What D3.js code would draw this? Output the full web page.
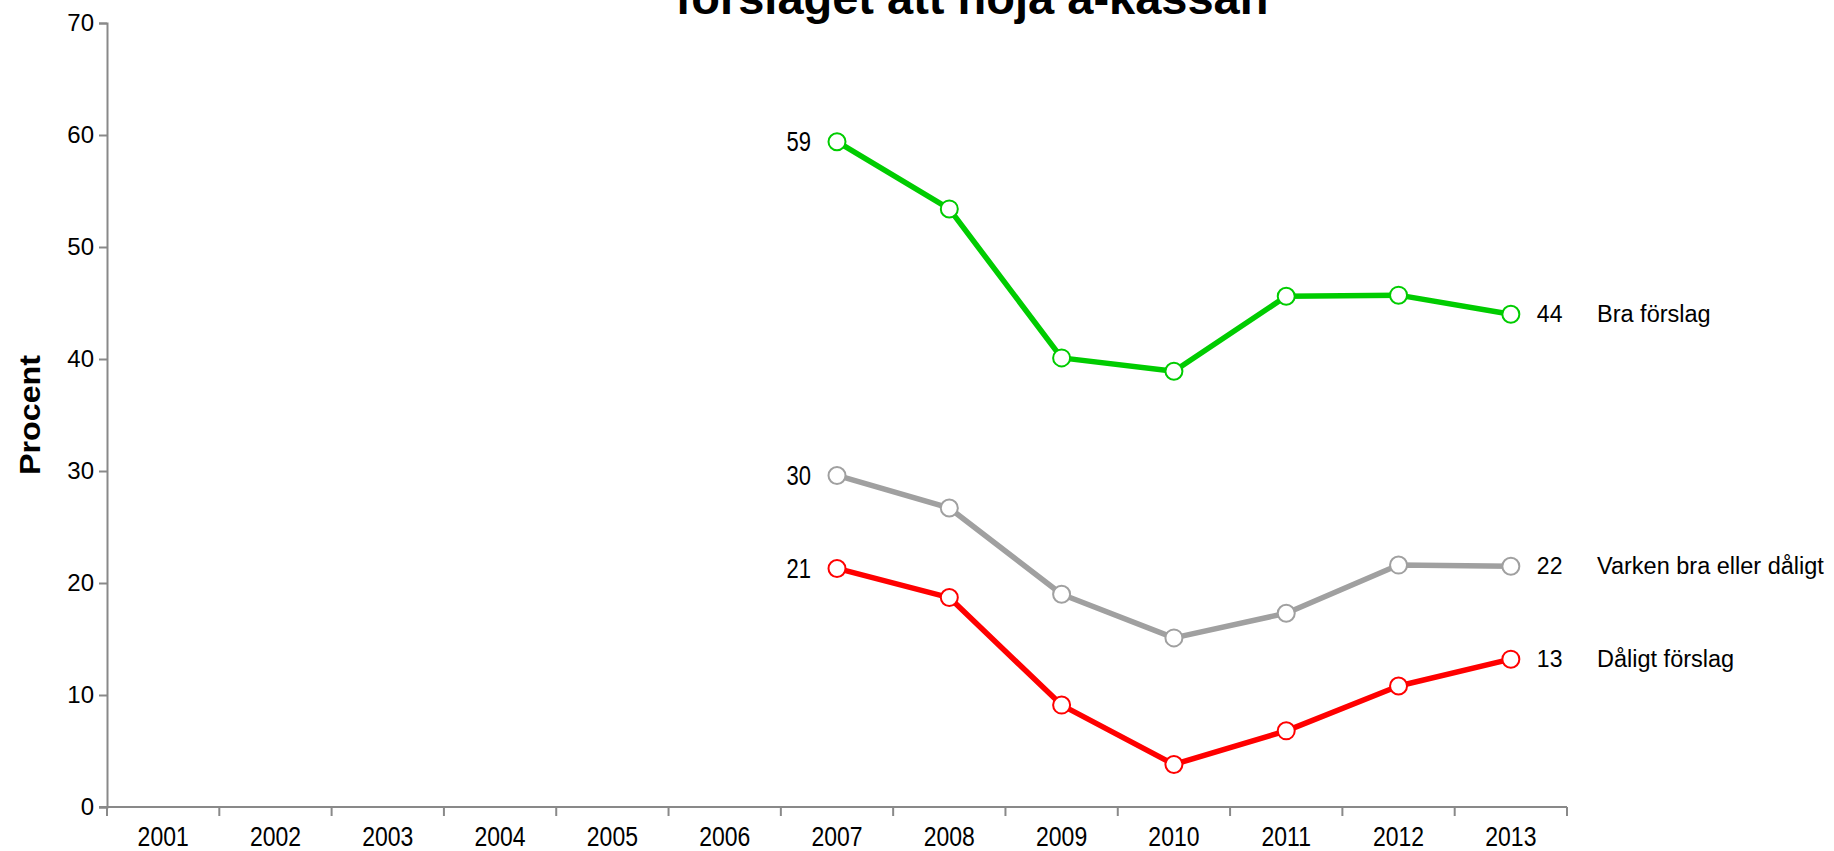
<!DOCTYPE html>
<html>
<head>
<meta charset="utf-8">
<script src="https://cdn.jsdelivr.net/npm/d3@7"></script>
<style>
  body { margin: 0; background: #fff; }
  text { font-family: "Liberation Sans", Arial, sans-serif; }
</style>
</head>
<body>
<div id="chart"></div>
<script>
// data
const years = ["2001","2002","2003","2004","2005","2006","2007","2008","2009","2010","2011","2012","2013"];
const dataYears = ["2007","2008","2009","2010","2011","2012","2013"];
const bra = [59.4, 53.4, 40.1, 38.9, 45.6, 45.7, 44.0];
const varken = [29.6, 26.7, 19.0, 15.1, 17.3, 21.6, 21.5];
const daligt = [21.3, 18.7, 9.1, 3.8, 6.8, 10.8, 13.2];
const seriesNames = ["Bra förslag", "Varken bra eller dåligt", "Dåligt förslag"];
const firstLabels = ["59", "30", "21"];
const lastLabels = ["44", "22", "13"];
const colors = ["#00cc00", "#a0a0a0", "#ff0000"];
const yTicks = [0, 10, 20, 30, 40, 50, 60, 70];

const width = 1834, height = 851;
const margin = {top: 23, right: 267, bottom: 44, left: 107};

const svg = d3.select("#chart").append("svg")
    .attr("width", width)
    .attr("height", height);

const x = d3.scaleBand()
    .domain(years)
    .range([margin.left, width - margin.right])
    .paddingInner(0).paddingOuter(0);

const y = d3.scaleLinear()
    .domain([0, 70])
    .range([height - margin.bottom, margin.top]);

const axisColor = "#898989";

// title (first line is outside the picture)
svg.append("text")
    .attr("x", 972)
    .attr("y", 14)
    .attr("text-anchor", "middle")
    .attr("font-size", "47px")
    .attr("font-weight", "bold")
    .text("förslaget att höja a-kassan");

// y axis
const yAxis = svg.append("g")
    .attr("transform", `translate(${margin.left},0)`)
    .call(d3.axisLeft(y).tickValues(yTicks).tickSize(8).tickPadding(5));
yAxis.select(".domain").attr("stroke", axisColor).attr("stroke-width", 2);
yAxis.selectAll(".tick line").attr("stroke", axisColor).attr("stroke-width", 2);
yAxis.selectAll(".tick text")
    .attr("font-size", "24px")
    .attr("fill", "#000")
    .attr("font-family", "Liberation Sans, Arial, sans-serif");

svg.append("text")
    .attr("transform", `translate(40,${y(35)}) rotate(-90)`)
    .attr("text-anchor", "middle")
    .attr("font-size", "29px")
    .attr("font-weight", "bold")
    .attr("textLength", 120)
    .attr("lengthAdjust", "spacingAndGlyphs")
    .text("Procent");

// x axis
const x0 = y(0);
const xAxis = svg.append("g")
    .attr("transform", `translate(0,${x0})`)
    .call(d3.axisBottom(x).tickSize(0).tickPadding(0));
xAxis.select(".domain").remove();
xAxis.selectAll(".tick text")
    .attr("font-size", "23px")
    .attr("fill", "#000")
    .attr("font-family", "Liberation Sans, Arial, sans-serif")
    .attr("dy", null)
    .attr("transform", "translate(0,39) scale(1,1.2)");

svg.append("line")
    .attr("x1", x.range()[0] - 8).attr("x2", x.range()[1])
    .attr("y1", x0).attr("y2", x0)
    .attr("stroke", axisColor).attr("stroke-width", 2);

const bounds = years.map(d => x(d)).concat([x.range()[1]]);
svg.append("g").selectAll("line")
    .data(bounds)
    .join("line")
    .attr("x1", d => d).attr("x2", d => d)
    .attr("y1", x0).attr("y2", x0 + 9)
    .attr("stroke", axisColor).attr("stroke-width", 2);

// lines
const allSeries = [bra, varken, daligt];
const cx = d => x(d) + x.bandwidth() / 2;

const line = d3.line()
    .x((d, i) => cx(dataYears[i]))
    .y(d => y(d));

allSeries.forEach((vals, s) => {
  svg.append("path")
      .datum(vals)
      .attr("fill", "none")
      .attr("stroke", colors[s])
      .attr("stroke-width", 5.5)
      .attr("stroke-linejoin", "round")
      .attr("d", line);

  svg.append("g").selectAll("circle")
      .data(vals)
      .join("circle")
      .attr("cx", (d, i) => cx(dataYears[i]))
      .attr("cy", d => y(d))
      .attr("r", 8.5)
      .attr("fill", "#fff")
      .attr("stroke", colors[s])
      .attr("stroke-width", 2);

  // first value label
  const fy = y(vals[0]);
  svg.append("text")
      .attr("x", cx(dataYears[0]) - 26)
      .attr("y", fy)
      .attr("text-anchor", "end")
      .attr("font-size", "22px")
      .attr("transform", `translate(0,${fy}) scale(1,1.25) translate(0,${-fy})`)
      .attr("dy", "0.35em")
      .text(firstLabels[s]);

  // last value label
  const ly = y(vals[vals.length - 1]);
  svg.append("text")
      .attr("x", cx(dataYears[dataYears.length - 1]) + 26)
      .attr("y", ly)
      .attr("dy", "0.35em")
      .attr("font-size", "23px")
      .text(lastLabels[s]);

  svg.append("text")
      .attr("x", 1597)
      .attr("y", ly)
      .attr("dy", "0.35em")
      .attr("font-size", "23.5px")
      .text(seriesNames[s]);
});
</script>
</body>
</html>
